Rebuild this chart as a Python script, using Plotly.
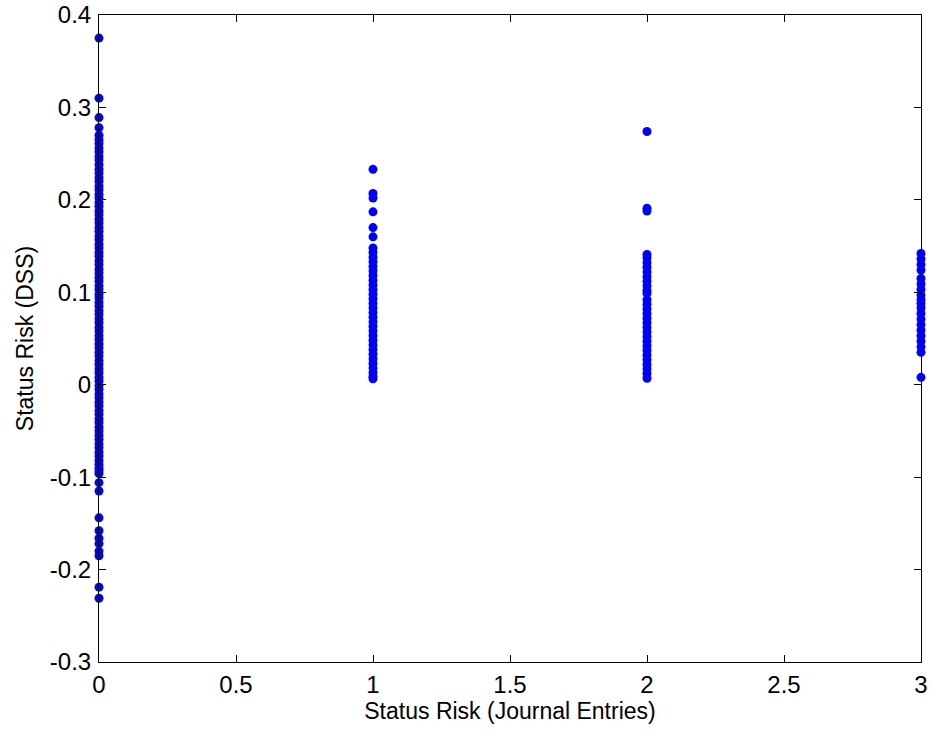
import plotly.graph_objects as go

# Status Risk (DSS) values observed at each Journal Entries risk level
dss_level0 = [
    0.375, 0.310, 0.289, 0.278, 0.270, 0.265, 0.261, 0.256, 0.252, 0.247,
    0.243, 0.238, 0.233, 0.229, 0.224, 0.220, 0.215, 0.211, 0.206, 0.202,
    0.197, 0.193, 0.188, 0.184, 0.179, 0.175, 0.170, 0.166, 0.161, 0.157,
    0.152, 0.148, 0.143, 0.139, 0.134, 0.130, 0.125, 0.121, 0.116, 0.112,
    0.107, 0.103, 0.098, 0.094, 0.089, 0.085, 0.080, 0.076, 0.071, 0.067,
    0.062, 0.058, 0.053, 0.049, 0.044, 0.040, 0.035, 0.031, 0.026, 0.022,
    0.017, 0.013, 0.008, 0.004, -0.001, -0.005, -0.010, -0.014, -0.019,
    -0.023, -0.028, -0.032, -0.037, -0.041, -0.046, -0.050, -0.055, -0.059,
    -0.064, -0.068, -0.073, -0.077, -0.082, -0.086, -0.090, -0.093,
    -0.096, -0.106, -0.115, -0.144, -0.158, -0.166, -0.172, -0.180,
    -0.185, -0.219, -0.231,
]
dss_level1 = [
    0.233, 0.207, 0.202, 0.187, 0.170, 0.160, 0.148, 0.143, 0.138, 0.133,
    0.128, 0.123, 0.118, 0.113, 0.108, 0.103, 0.098, 0.093, 0.088, 0.083,
    0.078, 0.073, 0.068, 0.063, 0.058, 0.053, 0.048, 0.043, 0.038, 0.033,
    0.028, 0.023, 0.018, 0.013, 0.009, 0.0065,
]
dss_level2 = [
    0.274, 0.191, 0.188, 0.141, 0.137, 0.132, 0.127, 0.122, 0.117, 0.112,
    0.107, 0.102, 0.099, 0.092, 0.087, 0.082, 0.077, 0.072, 0.067, 0.062,
    0.057, 0.052, 0.047, 0.042, 0.037, 0.032, 0.027, 0.022, 0.017, 0.012,
    0.007,
]
dss_level3 = [
    0.142, 0.136, 0.130, 0.124, 0.115, 0.109, 0.103, 0.097, 0.092, 0.088,
    0.083, 0.077, 0.071, 0.065, 0.059, 0.053, 0.047, 0.041, 0.035, 0.008,
]

journal_levels = [0, 1, 2, 3]
dss_columns = [dss_level0, dss_level1, dss_level2, dss_level3]

x_vals = []
y_vals = []
for lvl, col in zip(journal_levels, dss_columns):
    x_vals.extend([lvl] * len(col))
    y_vals.extend(col)

x_ticks = [0, 0.5, 1, 1.5, 2, 2.5, 3]
x_ticktext = ["0", "0.5", "1", "1.5", "2", "2.5", "3"]
y_ticks = [-0.3, -0.2, -0.1, 0, 0.1, 0.2, 0.3, 0.4]
y_ticktext = ["-0.3", "-0.2", "-0.1", "0", "0.1", "0.2", "0.3", "0.4"]

FONT = "Liberation Sans, Arial, sans-serif"

fig = go.Figure(
    go.Scatter(
        x=x_vals,
        y=y_vals,
        mode="markers",
        marker=dict(color="#0000ff", size=9, line=dict(width=0)),
        cliponaxis=False,
        hoverinfo="x+y",
    )
)

axis_common = dict(
    showgrid=False,
    zeroline=False,
    showline=True,
    linecolor="black",
    linewidth=1,
    mirror="ticks",
    ticks="inside",
    ticklen=7,
    tickcolor="black",
    automargin=False,
    tickfont=dict(family=FONT, size=24, color="black"),
)

fig.update_layout(
    width=930,
    height=734,
    paper_bgcolor="white",
    plot_bgcolor="white",
    margin=dict(l=99, r=9, t=15, b=72),
    showlegend=False,
    font=dict(family=FONT, color="black"),
    xaxis=dict(
        range=[0, 3],
        tickvals=x_ticks,
        ticktext=x_ticktext,
        ticklabelstandoff=1,
        title=dict(text="Status Risk (Journal Entries)", font=dict(size=23), standoff=3),
        **axis_common,
    ),
    yaxis=dict(
        range=[-0.3, 0.4],
        tickvals=y_ticks,
        ticktext=y_ticktext,
        ticklabelstandoff=2,
        title=dict(text="Status Risk (DSS)", font=dict(size=23), standoff=9),
        **axis_common,
    ),
)

fig.write_html("out.html")
